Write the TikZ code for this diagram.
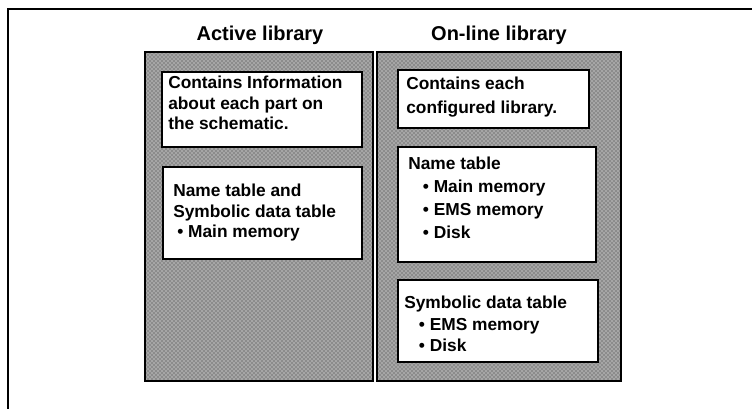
\documentclass[tikz,border=0pt]{standalone}
\usepackage{fontspec}
\setmainfont{Liberation Sans}
\usetikzlibrary{patterns}
\begin{document}
\begin{tikzpicture}[x=0.75pt,y=-0.75pt,
  panel/.style={draw=black,line width=1.6pt,fill=black!45},
  panelpat/.style={pattern=crosshatch dots,pattern color=white},
  infobox/.style={draw=black,line width=1.8pt,fill=white},
  boxtext/.style={anchor=north west,align=left,inner sep=0pt},
  fs/.style={font=\bfseries\fontsize{13}{#1}\selectfont},
  title/.style={font=\bfseries\fontsize{15}{18}\selectfont}]
\useasboundingbox (0,0) rectangle (752,409);
% outer frame (only top and left visible)
\draw[line width=1.2pt] (8,420) -- (8,9) -- (760,9);
% titles
\node[title] (t1) at (260,35) {Active library};
\node[title] (t2) at (499,35) {On-line library};
% panels
\draw[panel] (145,52) rectangle (373,381);
\fill[panelpat] (145,52) rectangle (373,381);
\draw[panel,fill=none] (145,52) rectangle (373,381);
\draw[panel] (377,52) rectangle (621,381);
\fill[panelpat] (377,52) rectangle (621,381);
\draw[panel,fill=none] (377,52) rectangle (621,381);
% left boxes
\draw[infobox] (162,72) rectangle (362,147);
\node[boxtext,fs=15.4] (a1) at (168,76) {Contains Information\\about each part on\\the schematic.};
\draw[infobox] (163,167) rectangle (362,259);
\node[boxtext,fs=15.4] (a2) at (173,184) {Name table and\\Symbolic data table\\\hspace{3pt}\textbullet\ Main memory};
% right boxes
\draw[infobox] (398,70) rectangle (589,128);
\node[boxtext,fs=18] (b1) at (406,77) {Contains each\\configured library.};
\draw[infobox] (398,147) rectangle (596,262);
\node[boxtext,fs=17.25] (b2) at (408,157) {Name table\\\hspace{11pt}\textbullet\ Main memory\\\hspace{11pt}\textbullet\ EMS memory\\\hspace{11pt}\textbullet\ Disk};
\draw[infobox] (398,280) rectangle (598,362);
\node[boxtext,fs=16.1] (b3) at (404,296) {Symbolic data table\\\hspace{11pt}\textbullet\ EMS memory\\\hspace{11pt}\textbullet\ Disk};
\end{tikzpicture}
\end{document}
